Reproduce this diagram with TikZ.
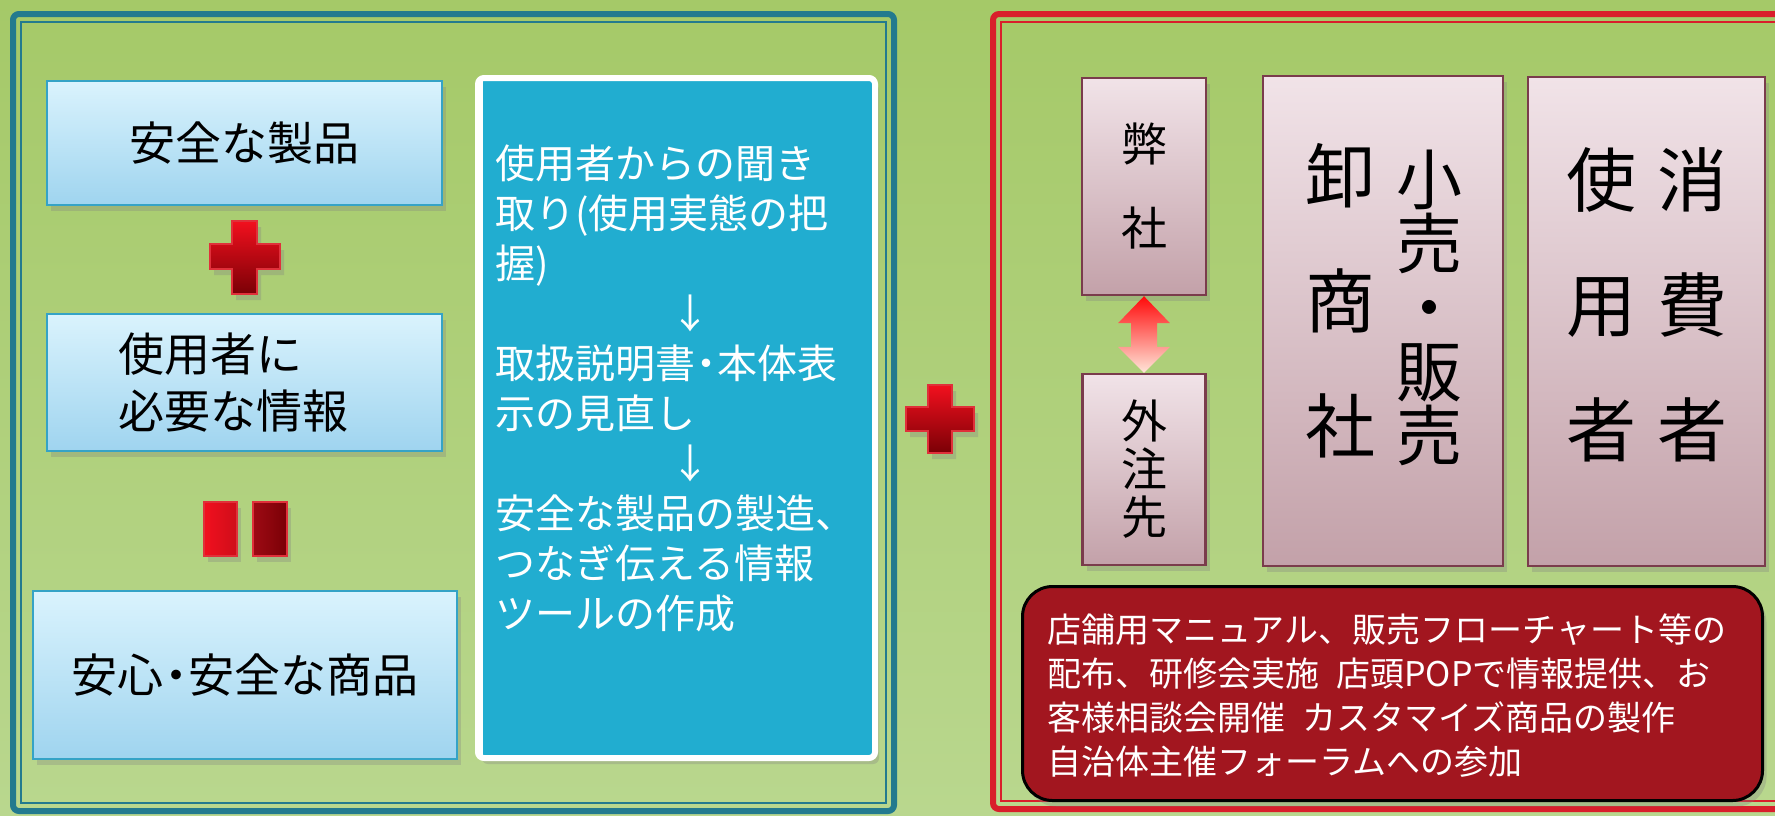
\documentclass[tikz,border=0pt]{standalone}
\usepackage{fontspec}
\setmainfont{Noto Sans CJK JP}
\usetikzlibrary{positioning,shadows,calc}

\definecolor{bgtop}{HTML}{A5C968}
\definecolor{bgbot}{HTML}{B9D78E}
\definecolor{panelteal}{HTML}{237A8E}
\definecolor{panelred}{HTML}{D91E2B}
\definecolor{skytop}{HTML}{DAF3FD}
\definecolor{skybot}{HTML}{9FD4EF}
\definecolor{skyline}{HTML}{35A3C6}
\definecolor{stepblue}{HTML}{21ADD0}
\definecolor{pinktop}{HTML}{F1E3E8}
\definecolor{pinkbot}{HTML}{C3A1A9}
\definecolor{pinkline}{HTML}{7A3C4C}
\definecolor{notered}{HTML}{A2161F}
\definecolor{plusred}{HTML}{F2101E}
\definecolor{plusdark}{HTML}{7A0006}
\definecolor{plusedge}{HTML}{E0303A}
\definecolor{arrowtop}{HTML}{FF0A0A}
\definecolor{arrowmid}{HTML}{FF7272}
\definecolor{arrowbot}{HTML}{FFE6DA}

\begin{document}
\begin{tikzpicture}[x=0.5pt,y=-0.5pt,
  softshadow/.style={drop shadow={opacity=0.3,shadow xshift=2pt,shadow yshift=-3pt}},
  skybox/.style={draw=skyline,line width=1pt,top color=skytop,bottom color=skybot,softshadow,
    font=\fontsize{23}{28.5}\selectfont},
  pinkbox/.style={draw=pinkline,line width=1.2pt,top color=pinktop,bottom color=pinkbot,softshadow,
    align=center,inner sep=0pt},
  vtext/.style={align=center,inner sep=0pt},
  redbar/.style={top color=plusred,bottom color=plusdark,draw=plusedge,line width=0.6pt,softshadow}]
\useasboundingbox (0,0) rectangle (1775,815);
\shade[top color=bgtop,bottom color=bgbot] (0,0) rectangle (1775,815);

\begin{scope}
\clip (0,0) rectangle (1775,815);
\draw[panelteal,line width=3pt,rounded corners=3pt] (13,14) rectangle (894,811);
\draw[panelteal,line width=0.7pt] (21,22) rectangle (886,803);
\draw[panelred,line width=3pt,rounded corners=3pt] (993,14) rectangle (1800,809);
\draw[panelred,line width=0.7pt] (1001,22) rectangle (1800,801);
\end{scope}

\node[skybox,minimum width=197.5pt,minimum height=62pt](safe) at (244.5,143) {安全な製品};
\node[skybox,minimum height=68.5pt,text width=126.5pt,inner xsep=35.5pt,align=left](info) at (244.5,382.5) {使用者に\\必要な情報};
\node[skybox,minimum width=212pt,minimum height=84pt](goods) at (245,675) {安心\makebox[0.55em]{・}安全な商品};

\shade[redbar] (232,221) -- ++(25,0) -- ++(0,23) -- ++(23,0) -- ++(0,25) -- ++(-23,0) -- ++(0,25)
  -- ++(-25,0) -- ++(0,-25) -- ++(-22,0) -- ++(0,-25) -- ++(22,0) -- cycle;
\shade[left color=plusred,right color=plusred!85!black,draw=plusedge,line width=0.6pt,softshadow] (204,502) rectangle (237,556);
\shade[left color=plusred!65!black,right color=plusdark,draw=plusedge,line width=0.6pt,softshadow] (253,502) rectangle (287,556);

\node[fill=stepblue,draw=white,line width=3pt,rounded corners=3pt,softshadow,
  minimum width=198.5pt,minimum height=340pt](steps) at (676.5,418) {};
\draw[white,line width=0.8pt] ($(steps.north west)+(7,5)$) rectangle ($(steps.south east)+(-5,-5)$);
\node[anchor=north west,align=left,inner sep=0pt,text=white,font=\fontsize{20}{25}\selectfont](howto) at (495,144)
  {使用者からの聞き\\取り(使用実態の把\\握)\\\hspace*{87.5pt}↓\\取扱説明書\makebox[0.55em]{・}本体表\\示の見直し\\\hspace*{87.5pt}↓\\安全な製品の製造、\\つなぎ伝える情報\\ツールの作成};

\shade[redbar] (928,385) -- ++(24,0) -- ++(0,22) -- ++(22,0) -- ++(0,24) -- ++(-22,0) -- ++(0,22)
  -- ++(-24,0) -- ++(0,-22) -- ++(-22,0) -- ++(0,-24) -- ++(22,0) -- cycle;

\node[pinkbox,minimum width=62pt,minimum height=108.5pt,font=\fontsize{23}{42}\selectfont](hei) at (1144,186.5) {弊\\社};
\node[pinkbox,minimum width=61.5pt,minimum height=95.5pt,font=\fontsize{23}{24}\selectfont](gai) at (1144,469.5) {外\\注\\先};
\shade[top color=arrowtop,middle color=arrowmid,bottom color=arrowbot] (hei.south) -- ++(26,27) -- ++(-13,0)
  -- ($(gai.north)+(13,-26)$) -- ++(13,0) -- (gai.north) -- ++(-26,-26) -- ++(13,0)
  -- ($(hei.south)+(-13,27)$) -- ++(-13,0) -- cycle;

\node[pinkbox,minimum width=120pt,minimum height=245pt](trade) at (1383,321) {};
\node[vtext,font=\fontsize{35}{62.5}\selectfont](oroshi) at (1340,301) {卸\\商\\社};
\node[vtext,font=\fontsize{33}{32}\selectfont](kouri) at (1429,308) {小\\売\\・\\販\\売};

\node[pinkbox,minimum width=118.5pt,minimum height=244.5pt](user) at (1646.5,321.5) {};
\node[vtext,font=\fontsize{35}{62.5}\selectfont](shiyou) at (1601,305) {使\\用\\者};
\node[vtext,font=\fontsize{35}{62.5}\selectfont](shouhi) at (1692,305) {消\\費\\者};

\node[fill=notered,draw=black,line width=1.5pt,rounded corners=15pt,softshadow,
  minimum width=370pt,minimum height=107pt](shop) at (1392.5,693.5) {};
\node[anchor=west,align=left,inner sep=0pt,text=white,font=\fontsize{17}{22}\selectfont](measures) at (1047,696)
  {店舗用マニュアル、販売フローチャート等の\\配布、研修会実施\enspace 店頭POPで情報提供、お\\客様相談会開催\enspace カスタマイズ商品の製作\\自治体主催フォーラムへの参加};
\end{tikzpicture}
\end{document}
